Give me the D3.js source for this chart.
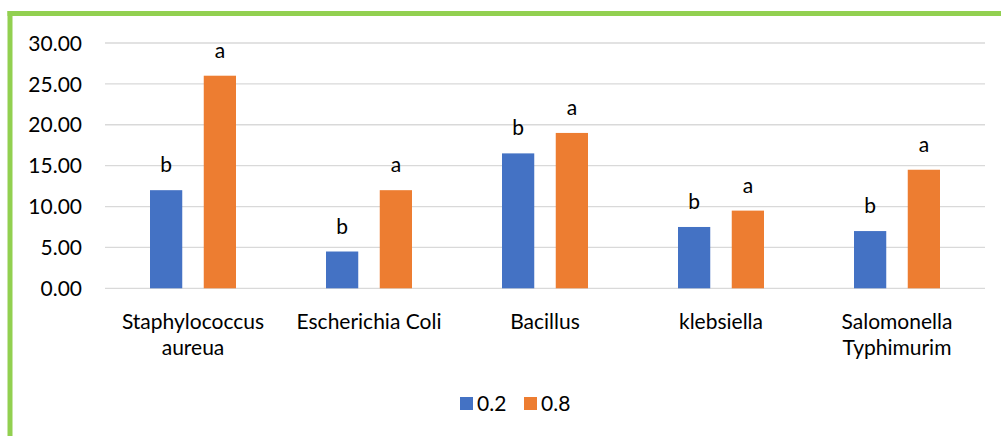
<!DOCTYPE html>
<html><head><meta charset="utf-8">
<script src="https://cdn.jsdelivr.net/npm/d3@7"></script>
<style>body{margin:0;background:#fff}svg{display:block}text{font-family:Lato,"Open Sans",sans-serif;fill:#000}</style>
</head><body><svg id="c" width="1001" height="436"></svg>
<script>
const categories = [["Staphylococcus","aureua"],["Escherichia Coli"],["Bacillus"],["klebsiella"],["Salomonella","Typhimurim"]];
const series = ["0.2","0.8"];
const values02 = [12,4.5,16.5,7.5,7];
const values08 = [26,12,19,9.5,14.5];
const letters02 = ["b","b","b","b","b"];
const letters08 = ["a","a","a","a","a"];
const yTicks = [0,5,10,15,20,25,30];
const colors = ["#4472C4","#ED7D31"];
const FS = "21px";

const svg = d3.select("#c");
// border
svg.append("rect").attr("x",7.5).attr("y",11).attr("width",5).attr("height",436).attr("fill","#92D050");
svg.append("rect").attr("x",7.5).attr("y",11).attr("width",1001).attr("height",5).attr("fill","#92D050");

const x0 = d3.scaleBand().domain(d3.range(categories.length)).range([105,985]);
const y = d3.scaleLinear().domain([0,30]).range([288.3,43]);
const xs = d3.scaleBand().domain(series).range([-43,43]).paddingInner(0.4);

const grid = svg.append("g");
grid.selectAll("line").data(yTicks).join("line")
  .attr("x1",105).attr("x2",985).attr("y1",d=>y(d)).attr("y2",d=>y(d))
  .attr("stroke","#D9D9D9").attr("stroke-width",1.3);

const yAxis = svg.append("g").attr("transform","translate(82,0)")
  .call(d3.axisLeft(y).tickValues(yTicks).tickFormat(d3.format(".2f")).tickSize(0).tickPadding(0));
yAxis.select(".domain").remove();
yAxis.selectAll("text").style("font-size",FS).attr("fill","#000").attr("dy","0.34em");

const data = [values02, values08];
const letters = [letters02, letters08];
series.forEach((s,si)=>{
  const g = svg.append("g");
  g.selectAll("rect").data(data[si]).join("rect")
    .attr("x",(d,i)=>x0(i)+x0.bandwidth()/2+xs(s))
    .attr("width",xs.bandwidth())
    .attr("y",d=>y(d)).attr("height",d=>y(0)-y(d))
    .attr("fill",colors[si]);
  g.selectAll("text").data(data[si]).join("text")
    .attr("x",(d,i)=>x0(i)+x0.bandwidth()/2+xs(s)+xs.bandwidth()/2)
    .attr("y",d=>y(d)-18)
    .attr("text-anchor","middle").style("font-size",FS)
    .text((d,i)=>letters[si][i]);
});

const cat = svg.append("g");
categories.forEach((lines,i)=>{
  const t = cat.append("text").attr("text-anchor","middle").style("font-size",FS)
    .attr("x",x0(i)+x0.bandwidth()/2).attr("y",329);
  lines.forEach((l,li)=>t.append("tspan").attr("x",x0(i)+x0.bandwidth()/2).attr("dy",li?26:0).text(l));
});

const leg = svg.append("g");
const legX = [460,524];
series.forEach((s,si)=>{
  leg.append("rect").attr("x",legX[si]).attr("y",397).attr("width",13).attr("height",13).attr("fill",colors[si]);
  leg.append("text").attr("x",legX[si]+17).attr("y",411).style("font-size",FS).text(s);
});
</script></body></html>
